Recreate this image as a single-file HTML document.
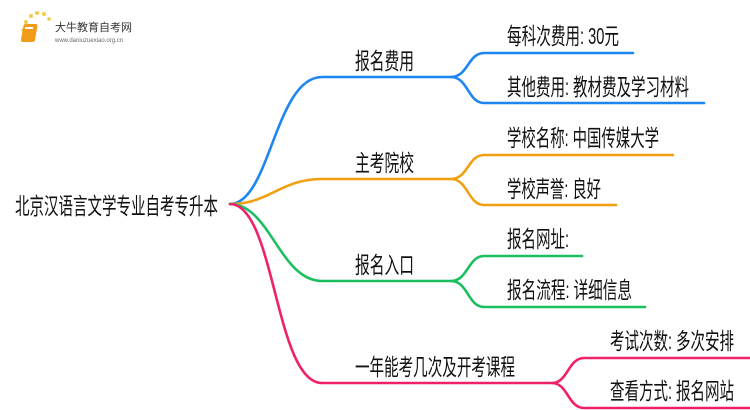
<!DOCTYPE html>
<html><head><meta charset="utf-8"><style>
html,body{margin:0;padding:0;background:#fff;width:750px;height:410px;overflow:hidden}
text{font-family:"Liberation Sans","Noto Sans CJK SC",sans-serif;font-size:23px;fill:#111}
path{fill:none;stroke-width:2.6;stroke-linecap:round}
</style></head><body>
<svg width="750" height="410" viewBox="0 0 750 410" xmlns="http://www.w3.org/2000/svg">
<g>
<circle cx="26" cy="22" r="2" fill="#f7c948"/><circle cx="31" cy="16" r="2" fill="#f7c948"/><circle cx="37" cy="13" r="2" fill="#f7c948"/><circle cx="44" cy="14" r="2" fill="#f7c948"/><circle cx="23" cy="30" r="1.8" fill="#f7d060"/><circle cx="24" cy="38" r="1.5" fill="#f7d060"/><circle cx="49" cy="19" r="1.8" fill="#f7c948"/>
<rect x="28" y="24" width="14" height="18" rx="2" fill="#f29a1a" transform="skewX(-10)"/>
<rect x="30" y="27" width="8" height="2" fill="#fff" transform="skewX(-10)"/>
<text x="55" y="31" style="font-size:11px;fill:#333">大牛教育自考网</text>
<text x="55" y="42" style="font-size:6px;fill:#666">www.daniuzuexiao.org.cn</text>
</g>
<text x="15" y="214" textLength="203" lengthAdjust="spacingAndGlyphs" style="font-size:23px">北京汉语言文学专业自考专升本</text>
<path stroke="#1e86f0" d="M230 204 C270 204 275 77 322 77 L451 77 C468 77 468 53 484 53 L633 53"/>
<path stroke="#1e86f0" d="M451 77 C468 77 468 103 484 103 L704 103"/>
<path stroke="#f0a010" d="M230 204 C270 204 280 179 322 179 L451 179 C468 179 468 155 484 155 L673 155"/>
<path stroke="#f0a010" d="M451 179 C468 179 468 205 484 205 L616 205"/>
<path stroke="#1cbf60" d="M230 204 C270 204 280 281 322 281 L451 281 C468 281 468 256 484 256 L582 256"/>
<path stroke="#1cbf60" d="M451 281 C468 281 468 307 484 307 L645 307"/>
<path stroke="#f0206a" d="M230 204 C275 204 275 383 322 383 L552 383 C568 383 568 358 584 358 L750 358"/>
<path stroke="#f0206a" d="M552 383 C568 383 568 408 584 408 L750 408"/>
<text x="355" y="69" textLength="59" lengthAdjust="spacingAndGlyphs">报名费用</text>
<text x="355" y="171" textLength="59" lengthAdjust="spacingAndGlyphs">主考院校</text>
<text x="355" y="273" textLength="59" lengthAdjust="spacingAndGlyphs">报名入口</text>
<text x="355" y="375" textLength="160" lengthAdjust="spacingAndGlyphs">一年能考几次及开考课程</text>
<text x="507" y="44" textLength="112" lengthAdjust="spacingAndGlyphs">每科次费用: 30元</text>
<text x="507" y="95" textLength="182" lengthAdjust="spacingAndGlyphs">其他费用: 教材费及学习材料</text>
<text x="507" y="146" textLength="152" lengthAdjust="spacingAndGlyphs">学校名称: 中国传媒大学</text>
<text x="507" y="197" textLength="94" lengthAdjust="spacingAndGlyphs">学校声誉: 良好</text>
<text x="507" y="247" textLength="62" lengthAdjust="spacingAndGlyphs">报名网址:</text>
<text x="507" y="298" textLength="125" lengthAdjust="spacingAndGlyphs">报名流程: 详细信息</text>
<text x="610" y="349" textLength="124" lengthAdjust="spacingAndGlyphs">考试次数: 多次安排</text>
<text x="610" y="399" textLength="124" lengthAdjust="spacingAndGlyphs">查看方式: 报名网站</text>
</svg>
</body></html>
